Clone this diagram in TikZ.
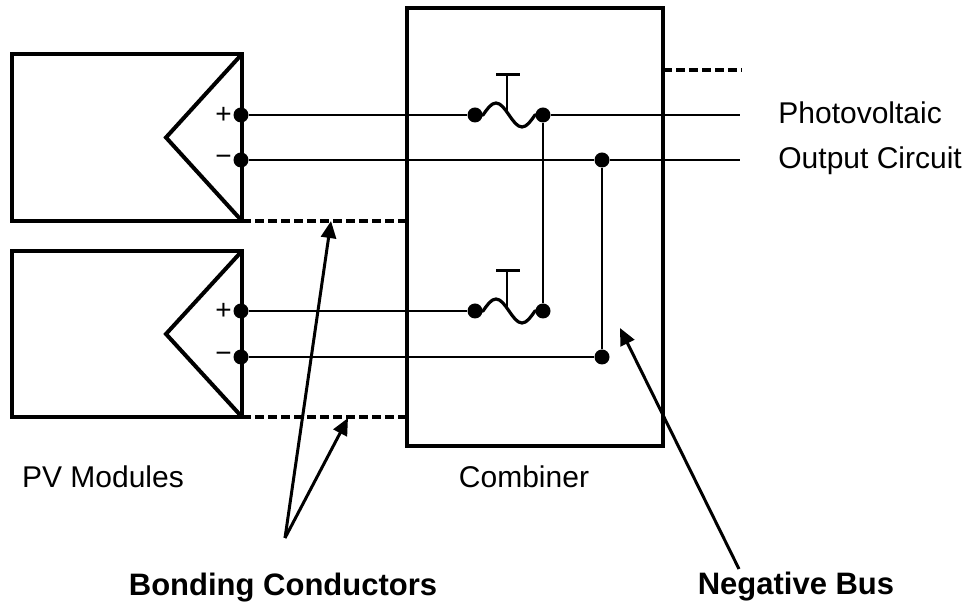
\documentclass[tikz,border=0pt]{standalone}
\usepackage{fontspec}
\setmainfont{Liberation Sans}
\usetikzlibrary{arrows.meta,positioning}

\tikzset{
  frame/.style={draw, line width=2pt, outer sep=0pt},
  wire/.style={line width=1pt},
  bond/.style={line width=2pt, dash pattern=on 4.5pt off 2pt},
  term/.style={circle, fill, inner sep=0pt, minimum size=7.5pt},
  fuselink/.style={line width=1.6pt, line join=round},
  pointer/.style={line width=1.5pt, -{Triangle[length=8.5pt,width=7.5pt]}},
  lbl/.style={font=\fontsize{15}{18}\selectfont, inner sep=0pt},
  callout/.style={font=\fontsize{15.5}{18}\selectfont\bfseries, inner sep=0pt},
  sign/.style={font=\fontsize{14}{16}\selectfont, inner sep=0pt},
}

\begin{document}
\begin{tikzpicture}[x=0.5pt,y=-0.5pt]
    \useasboundingbox (0,0) rectangle (970,603);
    % modules and combiner box
    \node[frame, minimum width=115pt, minimum height=83.5pt] (mod1) at (127,137.5) {};
    \node[frame, minimum width=115pt, minimum height=83pt] (mod2) at (127,334) {};
    \node[frame, minimum width=128pt, minimum height=219pt] (comb) at (535,227) {};
    \draw[line width=2pt] (mod1.north east) -- (166,137.5) -- (mod1.south east);
    \draw[line width=2pt] (mod2.north east) -- (166,334) -- (mod2.south east);
    % terminals
    \node[term] (p1) at (241,115) {};
    \node[term] (n1) at (241,160) {};
    \node[term] (p2) at (241,311) {};
    \node[term] (n2) at (241,357) {};
    \node[sign, left=0.5pt of p1] (s1) {+};
    \node[sign, left=0.5pt of n1] (s2) {−};
    \node[sign, left=0.5pt of p2] (s3) {+};
    \node[sign, left=0.5pt of n2] (s4) {−};
    \node[term] (fa1) at (475,115) {};
    \node[term] (fb1) at (543,115) {};
    \node[term] (fa2) at (475,311) {};
    \node[term] (fb2) at (543,311) {};
    \node[term] (bt) at (602,160) {};
    \node[term] (bb) at (602,357) {};
    \coordinate (out1) at (740,115);
    \coordinate (out2) at (740,160);
    \coordinate (spare) at (742,70);
    % fuses
    \draw[fuselink] (fa1.center) -- ++(8,0) sin ++(13,-12) cos ++(13,12) sin ++(13,12) cos ++(13,-12) -- (fb1.center);
    \draw[line width=1.2pt] (507,75) -- (507,111);
    \draw[line width=1.5pt] (496,75) -- (520,75);
    \draw[fuselink] (fa2.center) -- ++(8,0) sin ++(13,-12) cos ++(13,12) sin ++(13,12) cos ++(13,-12) -- (fb2.center);
    \draw[line width=1.2pt] (507,271) -- (507,307);
    \draw[line width=1.5pt] (496,271) -- (520,271);
    % wiring
    \draw[wire] (p1) -- (fa1);
    \draw[wire] (fb1) -- (out1);
    \draw[wire] (n1) -- (bt);
    \draw[wire] (bt) -- (out2);
    \draw[wire] (fb1) -- (fb2);
    \draw[wire] (bt) -- (bb);
    \draw[wire] (p2) -- (fa2);
    \draw[wire] (n2) -- (bb);
    % bonding
    \draw[bond] (mod1.south east) -- (comb.west |- mod1.south east);
    \draw[bond] (mod2.south east) -- (comb.west |- mod2.south east);
    \draw[bond] (comb.east |- spare) -- (spare);
    % labels
    \node[lbl, anchor=base west] (pvout) at (778,124) {Photovoltaic};
    \node[lbl, anchor=base west] (pvout2) at (778,169) {Output Circuit};
    \node[lbl, anchor=base] (combname) at (524,488) {Combiner};
    \node[lbl, anchor=base] (modname) at (103,488) {PV Modules};
    \node[callout, anchor=base] (bonding) at (283,596) {Bonding Conductors};
    \node[callout, anchor=base] (negbus) at (796,595) {Negative Bus};
    % pointers
    \coordinate (bondfoot) at (285,538);
    \coordinate (bondtip1) at (331,221);
    \coordinate (bondtip2) at (348,418);
    \coordinate (busfoot) at (739,569);
    \coordinate (bustip) at (620,328);
    \draw[pointer] (bondfoot) -- (bondtip1);
    \draw[pointer] (bondfoot) -- (bondtip2);
    \draw[pointer] (busfoot) -- (bustip);
\end{tikzpicture}
\end{document}
